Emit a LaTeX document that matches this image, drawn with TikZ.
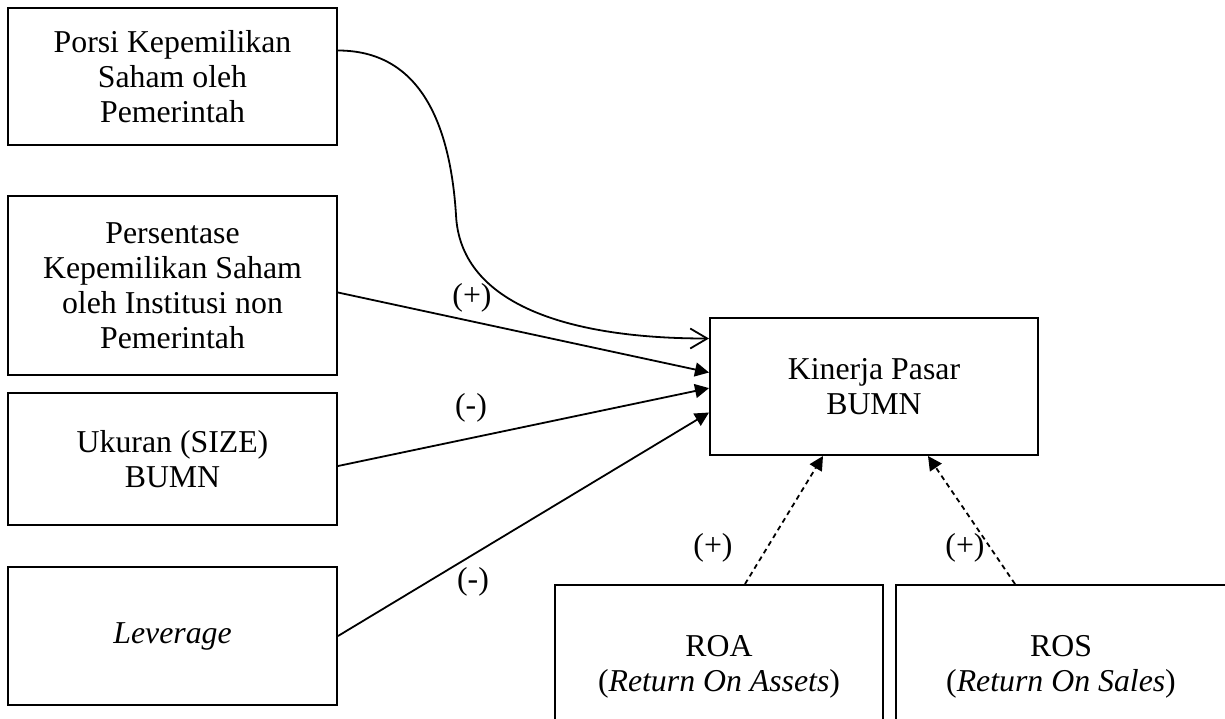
\documentclass[tikz,border=0pt]{standalone}
\usepackage{fontspec}
\setmainfont{Liberation Serif}
\usetikzlibrary{arrows.meta}
\tikzset{>={Triangle[length=7pt,width=7pt]}}

\begin{document}
\begin{tikzpicture}[x=.5pt, y=-.5pt,
    font=\fontsize{15.9}{17.5}\selectfont,
    box/.style={draw, line width=1pt, align=center, inner sep=2pt},
    lbl/.style={inner sep=0pt},
    link/.style={->, line width=.9pt}]
      \useasboundingbox (0,0) rectangle (1225,718);
      \clip (0,0) rectangle (1225,718);
      % nodes
      \node[box, minimum width=164.5pt, minimum height=68.5pt] (porsi) at (172.5,76.5)
        {Porsi Kepemilikan\\Saham oleh\\Pemerintah};
      \node[box, minimum width=164.5pt, minimum height=89.5pt] (persen) at (172.5,285.5)
        {Persentase\\Kepemilikan Saham\\oleh Institusi non\\Pemerintah};
      \node[box, minimum width=164.5pt, minimum height=66pt] (ukuran) at (172.5,459)
        {Ukuran (SIZE)\\BUMN};
      \node[box, minimum width=164.5pt, minimum height=69pt] (leverage) at (172.5,636)
        {\textit{Leverage}};
      \node[box, minimum width=164pt, minimum height=68.5pt] (kinerja) at (874,386.5)
        {Kinerja Pasar\\BUMN};
      \node[box, minimum width=164pt, minimum height=82pt] (roa) at (719,667)
        {ROA\\(\textit{Return On Assets})};
      \node[box, minimum width=165pt, minimum height=82pt] (ros) at (1061,667)
        {ROS\\(\textit{Return On Sales})};
      % lines
      \draw[line width=.9pt, -{Straight Barb[length=8.5pt,width=10pt]}] ([yshift=13pt]porsi.east)
        .. controls +(80,0) and +(-6,-95) .. (456,215)
        .. controls +(4,85) and +(-150,0) .. ([yshift=24pt]kinerja.west);
      \draw[link] ([yshift=-3.5pt]persen.east) -- ([yshift=7pt]kinerja.west);
      \draw[link] ([yshift=-3.5pt]ukuran.east) -- ([yshift=-.8pt]kinerja.west);
      \draw[link] (leverage.east) -- ([yshift=-13pt]kinerja.west);
      \draw[link, dash pattern=on 2.5pt off 2pt] ([xshift=13pt]roa.north) -- ([xshift=-25.5pt]kinerja.south);
      \draw[link, dash pattern=on 2.5pt off 2pt] ([xshift=-23pt]ros.north) -- ([xshift=27pt]kinerja.south);
      % signs
      \node[lbl] (s1) at (472,298) {(+)};
      \node[lbl] (s2) at (471,408) {(-)};
      \node[lbl] (s3) at (473,582) {(-)};
      \node[lbl] (s4) at (713,548) {(+)};
      \node[lbl] (s5) at (965,548) {(+)};
\end{tikzpicture}
\end{document}
